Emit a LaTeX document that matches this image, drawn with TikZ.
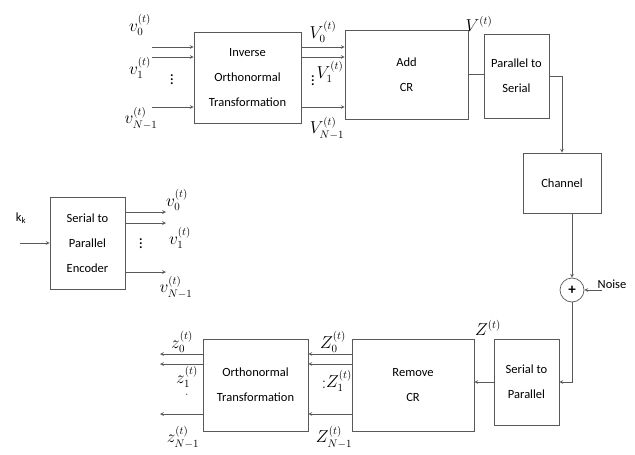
\documentclass[tikz,border=0pt]{standalone}
\usepackage[no-math]{fontspec}
\setmainfont{Carlito}
\usepackage{amsmath}
\usepackage{tikz}

\begin{document}
\begin{tikzpicture}[x=1pt,y=-1pt,font=\fontsize{12.5}{25}\selectfont,
  block/.style={draw=black!65,line width=0.7pt,align=center,inner sep=0pt},
  wire/.style={draw=black!65,line width=0.7pt},
  arr/.style={wire,->,>=stealth},
  lbl/.style={font=\fontsize{16}{18}\selectfont,inner sep=0pt}]
  \useasboundingbox (0,0) rectangle (635,455);
  % transmitter, top row
  \node[block,minimum width=107,minimum height=91] (iot) at (247.5,77.5)
    {Inverse\\Orthonormal\\Transformation};
  \node[block,minimum width=123,minimum height=89] (addcr) at (406.5,74.5) {Add\\CR};
  \node[block,minimum width=65,minimum height=84] (ptos) at (516.5,76) {Parallel to\\Serial};
  \node[block,minimum width=78,minimum height=60] (chan) at (562,183) {Channel};
  \node[draw=black!65,line width=0.7pt,circle,minimum size=24,inner sep=0pt] (sum)
    at (572,290) {\fontsize{15}{15}\selectfont\textbf{+}};
  \node (noise) at (612,284) {Noise};
  % receiver, bottom row
  \node[block,minimum width=65,minimum height=86] (stop) at (526.5,382) {Serial to\\Parallel};
  \node[block,minimum width=122,minimum height=92] (remcr) at (413,385) {Remove\\CR};
  \node[block,minimum width=105,minimum height=92] (orth) at (255.5,385)
    {Orthonormal\\Transformation};
  % encoder
  \node[block,minimum width=75,minimum height=92] (enc) at (87.5,243)
    {Serial to\\Parallel\\Encoder};
  \node (key) at (21,218) {k\textsubscript{k}};
  \coordinate (kin) at (20,243);
  \draw[arr] (kin) -- (enc.west);
  \coordinate (encout) at (166,0);
  \foreach \ypos in {212,223,272}
    \draw[arr] (enc.east |- 0,\ypos) -- (encout |- 0,\ypos);
  \node[lbl] (ev0) at (177,200) {$v_0^{(t)}$};
  \node[lbl] (ev1) at (180,238) {$v_1^{(t)}$};
  \node[lbl] (evN) at (176,287) {$v_{N-1}^{(t)}$};
  \node[lbl] (edots) at (141,241) {$\vdots$};
  % parallel inputs and outputs of the inverse transform
  \coordinate (vin) at (152,0);
  \foreach \ypos in {47,57,107} {
    \draw[arr] (vin |- 0,\ypos) -- (iot.west |- 0,\ypos);
    \draw[arr] (iot.east |- 0,\ypos) -- (addcr.west |- 0,\ypos);
  }
  \node[lbl] (v0) at (140,25) {$v_0^{(t)}$};
  \node[lbl] (v1) at (140,68) {$v_1^{(t)}$};
  \node[lbl] (vN) at (141,118) {$v_{N-1}^{(t)}$};
  \node[lbl] (vdots) at (172,77) {$\vdots$};
  \node[lbl] (V0) at (323,32) {$V_0^{(t)}$};
  \node[lbl] (V1dots) at (313,78) {$\vdots$};
  \node[lbl] (V1) at (330,72) {$V_1^{(t)}$};
  \node[lbl] (VN) at (327,128) {$V_{N-1}^{(t)}$};
  \node[lbl] (V) at (479,24) {$V^{(t)}$};
  % serial chain through the channel
  \draw[wire] (addcr.east) -- (ptos.west |- addcr.east);
  \draw[arr] (ptos.east) -| (chan.north);
  \draw[arr] (chan.south -| sum) -- (sum.north);
  \coordinate (nin) at (602,290);
  \draw[arr] (nin) -- (sum.east);
  \draw[arr] (sum.south) |- (stop.east);
  \draw[arr] (stop.west) -- (remcr.east |- stop.west);
  \node[lbl] (Z) at (488,328) {$Z^{(t)}$};
  % parallel outputs of the receiver
  \coordinate (zout) at (160,0);
  \foreach \ypos in {354,364,414} {
    \draw[arr] (remcr.west |- 0,\ypos) -- (orth.east |- 0,\ypos);
    \draw[arr] (orth.west |- 0,\ypos) -- (zout |- 0,\ypos);
  }
  \node[lbl] (Z0) at (333,342) {$Z_0^{(t)}$};
  \node[lbl] (Z1dots) at (324,385) {$:$};
  \node[lbl] (Z1) at (339,381) {$Z_1^{(t)}$};
  \node[lbl] (ZN) at (334,437) {$Z_{N-1}^{(t)}$};
  \node[lbl] (z0) at (182,342) {$z_0^{(t)}$};
  \node[lbl] (z1) at (187,383) {$\underset{\cdot}{z_1^{(t)}}$};
  \node[lbl] (zN) at (183,437) {$z_{N-1}^{(t)}$};
\end{tikzpicture}
\end{document}
